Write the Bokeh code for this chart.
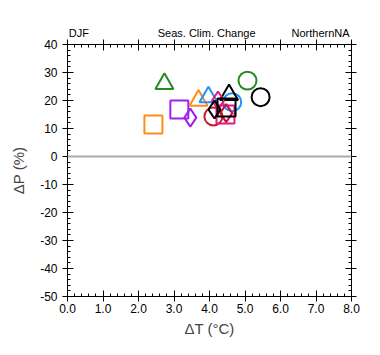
from bokeh.plotting import figure
from bokeh.models import (LinearAxis, Span, Range1d, SingleIntervalTicker, FixedTicker,
                          NumeralTickFormatter, ColumnDataSource)
from bokeh.embed import file_html
from bokeh.resources import INLINE

# data
dT = [2.73, 2.42, 3.15, 3.46, 3.69, 3.97, 4.64, 4.55, 5.07, 5.44, 4.24, 4.11, 4.45, 4.47, 4.14, 4.48]
dP = [26.0, 11.4, 16.8, 13.9, 20.0, 21.2, 19.4, 22.0, 27.1, 21.2, 20.0, 14.3, 15.0, 15.5, 16.8, 17.5]
markers = ["triangle", "square", "square", "diamond", "triangle", "triangle", "circle", "triangle",
           "circle", "circle", "diamond", "circle", "square", "diamond", "diamond", "square"]
colors = ["#228b22", "#ff8c1a", "#a020f0", "#a020f0", "#ff8c1a", "#1e90ff", "#1e90ff", "#000000",
          "#228b22", "#000000", "#e6167e", "#c0202a", "#e6167e", "#c8143c", "#000000", "#000000"]
titles = ["DJF", "Seas. Clim. Change", "NorthernNA"]
x_ticks_step = 1.0
y_ticks_step = 10

FONT = "Liberation Sans"

p = figure(width=380, height=355, output_backend="svg", toolbar_location=None,
           x_range=Range1d(0, 8), y_range=Range1d(-50, 40),
           min_border_left=67, min_border_right=29, min_border_top=44, min_border_bottom=59,
           background_fill_color="white", border_fill_color="white")
p.grid.visible = False
p.outline_line_color = "black"
p.outline_line_width = 1

p.add_layout(Span(location=0, dimension="width", line_color="#aaaaaa", line_width=2))

src = ColumnDataSource(dict(x=dT, y=dP, m=markers, c=colors))
p.scatter(x="x", y="y", marker="m", source=src, size=18, fill_color=None,
          line_color="c", line_width=2)

def style(ax, step, fmt, labels=True):
    ax.ticker = SingleIntervalTicker(interval=step, num_minor_ticks=5)
    ax.formatter = NumeralTickFormatter(format=fmt)
    ax.major_tick_in = 6
    ax.major_tick_out = 5
    ax.minor_tick_in = 3
    ax.minor_tick_out = 0
    ax.axis_line_color = "black"
    ax.major_tick_line_color = "black"
    ax.minor_tick_line_color = "black"
    ax.major_label_text_font = FONT
    ax.major_label_text_font_size = "12px"
    ax.major_label_text_color = "black"
    ax.axis_label_text_font = FONT
    ax.axis_label_text_font_size = "15px"
    ax.axis_label_text_font_style = "normal"
    if not labels:
        ax.major_label_text_font_size = "0px"
        ax.major_label_text_color = None
        ax.major_label_standoff = 0

xa = p.xaxis[0]
style(xa, x_ticks_step, "0.0")
xa.axis_label = "ΔT (°C)"
xa.major_label_standoff = 2
xa.axis_label_standoff = 4
ya = p.yaxis[0]
style(ya, y_ticks_step, "0")
ya.axis_label = "ΔP (%)"
ya.major_label_standoff = 5
ya.axis_label_standoff = 10

top = LinearAxis()
style(top, x_ticks_step, "0.0", labels=False)
p.add_layout(top, "above")
right = LinearAxis()
style(right, y_ticks_step, "0", labels=False)
p.add_layout(right, "right")

# header texts drawn as labels of an extra, line-less axis above the frame
title_pos = [0.32, 3.92, 7.13]
tax = LinearAxis(ticker=FixedTicker(ticks=title_pos, minor_ticks=[]),
                 major_label_overrides={pos: t for pos, t in zip(title_pos, titles)})
tax.axis_line_color = None
tax.major_tick_line_color = None
tax.minor_tick_line_color = None
tax.major_tick_out = 0
tax.major_tick_in = 0
tax.major_label_standoff = 1
tax.major_label_text_font = FONT
tax.major_label_text_font_size = "11px"
tax.major_label_text_color = "black"
p.add_layout(tax, "above")

open("out.html", "w").write(file_html(p, INLINE))
